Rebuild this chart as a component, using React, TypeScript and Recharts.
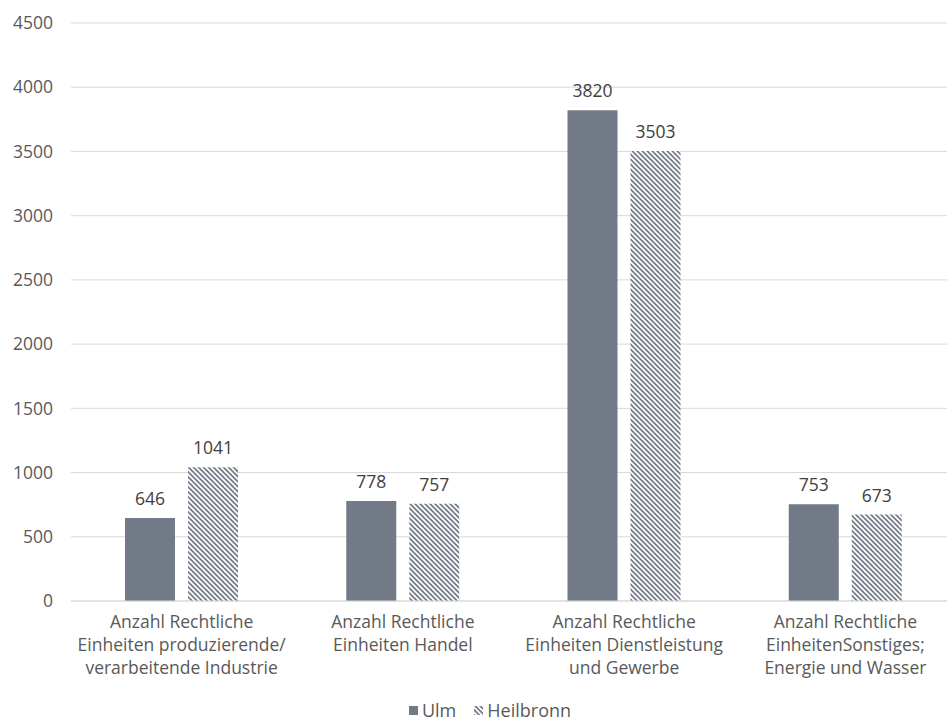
import React from 'react';
import { BarChart, Bar, XAxis, YAxis, CartesianGrid, Legend, LabelList } from 'recharts';

document.body.style.margin = '0';

const categories: string[][] = [
  ['Anzahl Rechtliche', 'Einheiten produzierende/', 'verarbeitende Industrie'],
  ['Anzahl Rechtliche', 'Einheiten Handel'],
  ['Anzahl Rechtliche', 'Einheiten Dienstleistung', 'und Gewerbe'],
  ['Anzahl Rechtliche', 'EinheitenSonstiges;', 'Energie und Wasser'],
];
const ulm = [646, 778, 3820, 753];
const heilbronn = [1041, 757, 3503, 673];
const yTicks = [0, 500, 1000, 1500, 2000, 2500, 3000, 3500, 4000, 4500];

const data = categories.map((lines, i) => ({
  name: lines.join('\n'),
  ulm: ulm[i],
  heilbronn: heilbronn[i],
}));

const FONT = '"Open Sans", sans-serif';
const BAR = '#717a86';
const TEXT = '#595959';

// the original plot runs a little past the right edge of the picture
const CHART_W = 956;

const CategoryTick = (props: any) => {
  const { x, y, payload } = props;
  const lines = String(payload.value).split('\n');
  return (
    <text x={x} y={y} textAnchor="middle" fill={TEXT} fontSize={17.5} fontFamily={FONT}>
      {lines.map((l, i) => (
        <tspan key={i} x={x} dy={i === 0 ? 19 : 23}>
          {l}
        </tspan>
      ))}
    </text>
  );
};

const HatchPattern = ({ id }: { id: string }) => (
  <pattern id={id} width="5" height="5" patternUnits="userSpaceOnUse">
    <rect width="5" height="5" fill="#fff" />
    <polygon points="0,0 2.5,0 5,2.5 5,5" fill={BAR} />
    <polygon points="0,2.5 2.5,5 0,5" fill={BAR} />
  </pattern>
);

const LegendContent = () => (
  <div
    style={{
      display: 'flex',
      justifyContent: 'center',
      alignItems: 'center',
      height: 24,
      fontFamily: FONT,
      fontSize: 18,
      color: TEXT,
      paddingLeft: 24,
    }}
  >
    <svg width={9} height={9} style={{ marginRight: 4 }}>
      <rect width={9} height={9} fill={BAR} />
    </svg>
    <span style={{ marginRight: 18 }}>Ulm</span>
    <svg width={9} height={9} style={{ marginRight: 4 }}>
      <defs>
        <HatchPattern id="hatchLegend" />
      </defs>
      <rect width={9} height={9} fill="url(#hatchLegend)" />
    </svg>
    <span>Heilbronn</span>
  </div>
);

export default function App() {
  return (
    <div style={{ width: 947, height: 722, background: '#fff', overflow: 'hidden' }}>
      <BarChart
        width={CHART_W}
        height={722}
        data={data}
        margin={{ top: 23, right: 0, left: 0, bottom: 0 }}
        barGap={13}
      >
        <defs>
          <HatchPattern id="hatch" />
        </defs>
        <CartesianGrid vertical={false} stroke="#d9d9d9" />
        <XAxis
          dataKey="name"
          height={97}
          tick={<CategoryTick />}
          tickLine={false}
          axisLine={{ stroke: '#d9d9d9' }}
          interval={0}
        />
        <YAxis
          width={71}
          domain={[0, 4500]}
          ticks={yTicks}
          tickLine={false}
          axisLine={false}
          tickSize={0}
          tickMargin={18}
          tick={{ fill: TEXT, fontSize: 17.5, fontFamily: FONT }}
        />
        <Legend verticalAlign="bottom" height={24} content={<LegendContent />} />
        <Bar dataKey="ulm" name="Ulm" fill={BAR} barSize={50} isAnimationActive={false}>
          <LabelList dataKey="ulm" position="top" offset={13} fill="#404040" fontSize={17.5} fontFamily={FONT} />
        </Bar>
        <Bar dataKey="heilbronn" name="Heilbronn" fill="url(#hatch)" barSize={50} isAnimationActive={false}>
          <LabelList dataKey="heilbronn" position="top" offset={13} fill="#404040" fontSize={17.5} fontFamily={FONT} />
        </Bar>
      </BarChart>
    </div>
  );
}
